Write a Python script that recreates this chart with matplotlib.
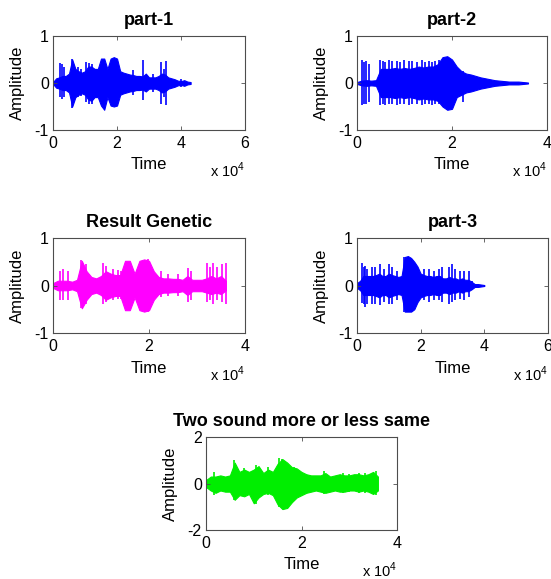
import numpy as np
import matplotlib
matplotlib.use("Agg")
import matplotlib.pyplot as plt
from matplotlib.ticker import FuncFormatter

plt.rcParams["font.family"] = ["Liberation Sans", "DejaVu Sans"]
plt.rcParams["mathtext.fontset"] = "custom"
plt.rcParams["mathtext.rm"] = "Liberation Sans"
plt.rcParams["axes.unicode_minus"] = False

STEP = 1000  # samples between envelope points

# ---- part-1 (blue) ----
P1_UP = [0.02, 0.10, 0.12, 0.15, 0.15, 0.20, 0.50, 0.30, 0.25, 0.22, 0.25, 0.35, 0.35, 0.30, 0.30,
         0.52, 0.52, 0.30, 0.52, 0.55, 0.52, 0.25, 0.22, 0.20, 0.18, 0.17, 0.15, 0.15, 0.14, 0.20,
         0.12, 0.12, 0.12, 0.15, 0.20, 0.18, 0.12, 0.10, 0.08, 0.05, 0.04, 0.06, 0.03, 0.02]
P1_LO = [-0.02, -0.10, -0.12, -0.15, -0.15, -0.20, -0.50, -0.30, -0.25, -0.22, -0.25, -0.35, -0.38, -0.30, -0.30,
         -0.48, -0.57, -0.30, -0.48, -0.50, -0.48, -0.25, -0.22, -0.20, -0.18, -0.17, -0.15, -0.15, -0.14, -0.18,
         -0.12, -0.12, -0.12, -0.15, -0.20, -0.18, -0.12, -0.10, -0.08, -0.05, -0.04, -0.06, -0.03, -0.02]
P1_SPIKE_X = [2100, 2900, 3300, 6000, 7800, 8900, 10400, 11200, 12300, 13000, 25000, 28100, 31200, 33900, 34700, 35400, 40100]
P1_SPIKE_TOP = [0.42, 0.40, 0.35, 0.52, 0.35, 0.30, 0.45, 0.42, 0.40, 0.30, 0.28, 0.49, 0.20, 0.45, 0.30, 0.47, 0.08]
P1_SPIKE_BOT = [-0.30, -0.35, -0.30, -0.54, -0.30, -0.28, -0.40, -0.45, -0.45, -0.30, -0.25, -0.36, -0.20, -0.45, -0.30, -0.47, -0.08]

# ---- part-2 (blue) ----
P2_UP = [0.02, 0.05, 0.06, 0.05, 0.06, 0.30, 0.30, 0.30, 0.32, 0.30, 0.32, 0.30, 0.32, 0.35, 0.33, 0.35,
         0.35, 0.40, 0.55, 0.57, 0.50, 0.35, 0.25, 0.20, 0.18, 0.15, 0.12, 0.10, 0.08, 0.06, 0.05,
         0.04, 0.03, 0.03, 0.03, 0.02, 0.01]
P2_LO = [-0.02, -0.05, -0.06, -0.05, -0.06, -0.30, -0.30, -0.30, -0.32, -0.30, -0.32, -0.30, -0.32, -0.35, -0.33, -0.35,
         -0.35, -0.38, -0.50, -0.57, -0.55, -0.30, -0.25, -0.20, -0.18, -0.15, -0.12, -0.10, -0.08, -0.06, -0.05,
         -0.04, -0.03, -0.03, -0.03, -0.02, -0.01]
P2_SPIKE_X = [1050, 1400, 2000, 2450, 4800, 5500, 6000, 6700, 7400, 8400, 9000, 9800, 10900, 11600,
              12600, 13700, 14400, 15100, 15800, 16500, 17200, 22300]
P2_SPIKE_TOP = [0.49, 0.45, 0.47, 0.40, 0.49, 0.47, 0.45, 0.48, 0.46, 0.47, 0.45, 0.48, 0.46, 0.47,
                0.45, 0.48, 0.44, 0.47, 0.45, 0.47, 0.48, 0.25]
P2_SPIKE_BOT = [-0.47, -0.45, -0.45, -0.40, -0.47, -0.45, -0.46, -0.44, -0.45, -0.46, -0.44, -0.45, -0.46, -0.44,
                -0.45, -0.46, -0.44, -0.45, -0.46, -0.44, -0.45, -0.40]

# ---- Result Genetic (magenta) ----
P3_UP = [0.05, 0.10, 0.10, 0.10, 0.08, 0.12, 0.52, 0.30, 0.18, 0.15, 0.20, 0.30, 0.25, 0.22, 0.22,
         0.52, 0.52, 0.25, 0.52, 0.55, 0.52, 0.30, 0.18, 0.15, 0.15, 0.14, 0.14, 0.12, 0.20, 0.12,
         0.12, 0.12, 0.15, 0.20, 0.15, 0.20, 0.10]
P3_LO = [-0.05, -0.10, -0.10, -0.10, -0.08, -0.12, -0.48, -0.30, -0.18, -0.15, -0.20, -0.30, -0.25, -0.22, -0.22,
         -0.52, -0.52, -0.25, -0.52, -0.55, -0.52, -0.30, -0.18, -0.15, -0.15, -0.14, -0.14, -0.12, -0.20, -0.12,
         -0.12, -0.12, -0.15, -0.18, -0.15, -0.18, -0.10]
P3_SPIKE_X = [1400, 2100, 3100, 5900, 6900, 10400, 11100, 12500, 13500, 14200, 19800, 20500, 22600, 23900,
              26000, 28100, 28800, 32000, 32600, 33300, 34200, 35200, 36000]
P3_SPIKE_TOP = [0.30, 0.35, 0.30, 0.54, 0.45, 0.47, 0.42, 0.35, 0.32, 0.30, 0.55, 0.40, 0.30, 0.25,
                0.25, 0.36, 0.30, 0.47, 0.40, 0.47, 0.40, 0.45, 0.47]
P3_SPIKE_BOT = [-0.30, -0.30, -0.30, -0.48, -0.40, -0.38, -0.35, -0.30, -0.28, -0.28, -0.55, -0.35, -0.25, -0.22,
                -0.22, -0.34, -0.30, -0.34, -0.30, -0.38, -0.30, -0.35, -0.38]

# ---- part-3 (blue) ----
P4_UP = [0.05, 0.10, 0.20, 0.20, 0.20, 0.20, 0.22, 0.25, 0.20, 0.20, 0.25, 0.22, 0.20, 0.18, 0.20,
         0.60, 0.62, 0.58, 0.50, 0.40, 0.25, 0.22, 0.20, 0.20, 0.18, 0.20, 0.20, 0.15, 0.15, 0.18,
         0.15, 0.15, 0.12, 0.15, 0.12, 0.12, 0.08, 0.03, 0.03, 0.02, 0.01]
P4_LO = [-0.05, -0.10, -0.20, -0.20, -0.20, -0.20, -0.22, -0.25, -0.20, -0.20, -0.25, -0.22, -0.20, -0.18, -0.20,
         -0.55, -0.55, -0.55, -0.50, -0.35, -0.25, -0.22, -0.20, -0.20, -0.18, -0.20, -0.20, -0.15, -0.15, -0.18,
         -0.15, -0.15, -0.12, -0.15, -0.12, -0.12, -0.08, -0.03, -0.03, -0.02, -0.01]
P4_SPIKE_X = [1600, 2100, 2600, 3100, 4700, 5800, 7100, 8400, 9900, 11000, 12600, 14700,
              20900, 22500, 24100, 25700, 26700, 28800, 29800, 30900, 32500, 33500, 35100, 36100]
P4_SPIKE_TOP = [0.48, 0.40, 0.42, 0.35, 0.38, 0.40, 0.45, 0.35, 0.45, 0.40, 0.30, 0.60,
                0.35, 0.35, 0.30, 0.35, 0.38, 0.40, 0.45, 0.35, 0.30, 0.30, 0.30, 0.10]
P4_SPIKE_BOT = [-0.37, -0.40, -0.45, -0.40, -0.38, -0.40, -0.42, -0.35, -0.40, -0.38, -0.30, -0.55,
                -0.30, -0.35, -0.30, -0.30, -0.35, -0.40, -0.35, -0.30, -0.28, -0.30, -0.25, -0.08]

# ---- Two sound more or less same (green) ----
P5_UP = [0.15, 0.30, 0.30, 0.35, 0.30, 0.35, 0.90, 0.50, 0.60, 0.50, 0.60, 0.75, 0.45, 0.60, 0.50,
         0.85, 1.05, 0.90, 0.70, 0.65, 0.50, 0.40, 0.35, 0.35, 0.35, 0.45, 0.30, 0.35, 0.40, 0.35,
         0.35, 0.40, 0.40, 0.35, 0.40, 0.50, 0.30]
P5_LO = [-0.15, -0.30, -0.40, -0.30, -0.35, -0.35, -0.70, -0.50, -0.55, -0.45, -0.85, -0.60, -0.45, -0.40, -0.50,
         -0.90, -1.10, -1.05, -0.80, -0.60, -0.50, -0.40, -0.35, -0.30, -0.35, -0.40, -0.35, -0.30, -0.35, -0.35,
         -0.30, -0.30, -0.35, -0.30, -0.35, -0.45, -0.30]
P5_SPIKE_X = [1700, 5900, 8000, 10500, 12900, 15200, 16000, 18500, 24800, 28600, 30000, 32100, 33200, 35600]
P5_SPIKE_TOP = [0.50, 1.00, 0.65, 0.80, 0.70, 1.08, 1.05, 0.70, 0.55, 0.45, 0.40, 0.45, 0.45, 0.55]
P5_SPIKE_BOT = [-0.50, -0.70, -0.55, -0.90, -0.50, -1.00, -1.07, -0.75, -0.45, -0.40, -0.35, -0.40, -0.40, -0.50]

PANELS = [
    # title, upper, lower, spikes, color, xmax, ymax, axes rect
    ("part-1", P1_UP, P1_LO, (P1_SPIKE_X, P1_SPIKE_TOP, P1_SPIKE_BOT), "#0000ff", 6e4, 1,
     [0.0962, 0.7755, 0.3485, 0.1623]),
    ("part-2", P2_UP, P2_LO, (P2_SPIKE_X, P2_SPIKE_TOP, P2_SPIKE_BOT), "#0000ff", 4e4, 1,
     [0.6479, 0.7755, 0.3448, 0.1623]),
    ("Result Genetic", P3_UP, P3_LO, (P3_SPIKE_X, P3_SPIKE_TOP, P3_SPIKE_BOT), "#ff00ff", 4e4, 1,
     [0.0962, 0.4249, 0.3485, 0.1640]),
    ("part-3", P4_UP, P4_LO, (P4_SPIKE_X, P4_SPIKE_TOP, P4_SPIKE_BOT), "#0000ff", 6e4, 1,
     [0.6479, 0.4249, 0.3466, 0.1640]),
    ("Two sound more or less same", P5_UP, P5_LO, (P5_SPIKE_X, P5_SPIKE_TOP, P5_SPIKE_BOT), "#00ee00", 4e4, 2,
     [0.3739, 0.0846, 0.3466, 0.1606]),
]

fig = plt.figure(figsize=(5.51, 5.79), dpi=100)

for title, up, lo, spikes, color, xmax, ymax, rect in PANELS:
    ax = fig.add_axes(rect)
    x = np.arange(len(up)) * STEP
    ax.fill_between(x, lo, up, color=color, linewidth=0.8, edgecolor=color)
    sx, st, sb = spikes
    ax.vlines(sx, sb, st, color=color, linewidth=1.2)

    ax.set_xlim(0, xmax)
    ax.set_ylim(-ymax, ymax)
    ax.set_xticks(np.arange(0, xmax + 1, 2e4))
    ax.set_yticks([-ymax, 0, ymax])
    ax.xaxis.set_major_formatter(FuncFormatter(lambda v, p: f"{v / 1e4:g}"))
    ax.tick_params(direction="in", top=True, right=True, length=3, width=0.6,
                   labelsize=11.5, color="0.3")
    ax.tick_params(axis="x", pad=4)
    ax.tick_params(axis="y", pad=3)
    for s in ax.spines.values():
        s.set_color("0.3")
        s.set_linewidth(0.8)

    ax.set_title(title, fontsize=13, fontweight="bold", pad=8)
    ax.set_xlabel("Time", fontsize=12)
    ax.set_ylabel("Amplitude", fontsize=12)
    ax.xaxis.set_label_coords(0.5, -0.29)
    ax.yaxis.set_label_coords(-0.145, 0.5)
    ax.text(1.0, -0.33, "x 10$^{4}$", transform=ax.transAxes, ha="right", va="top", fontsize=10.5)

fig.savefig("out.png", dpi=100)
